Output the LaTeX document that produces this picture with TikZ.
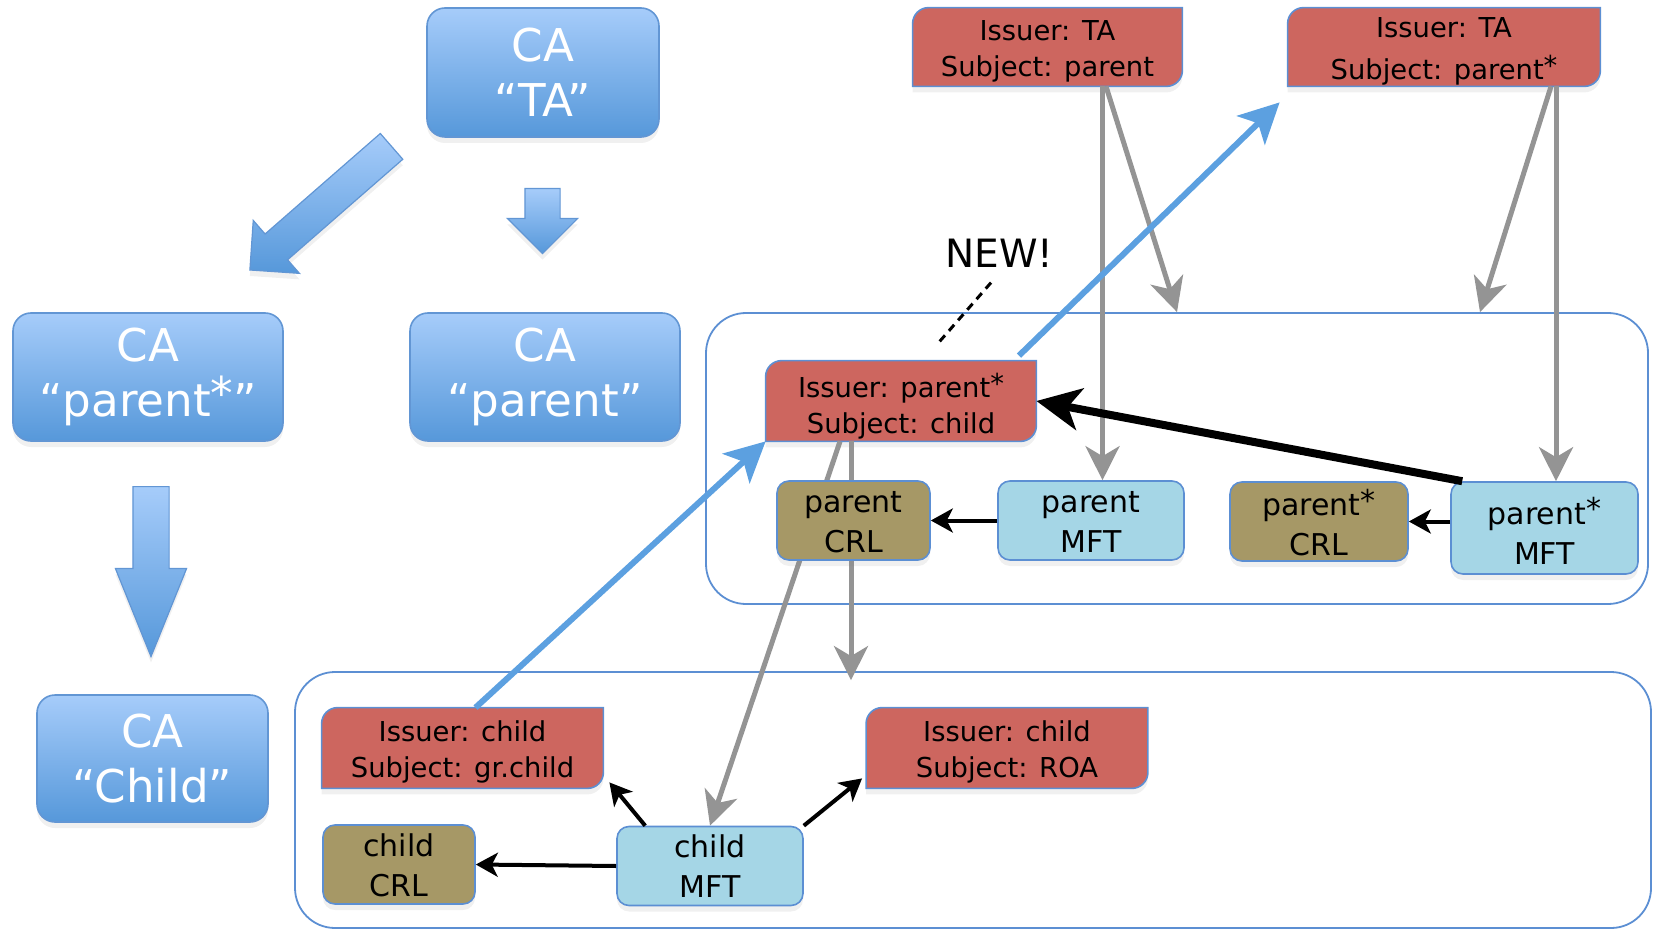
\documentclass[tikz,border=0pt]{standalone}
\usepackage{fontspec}
\setmainfont{DejaVu Sans}
\usetikzlibrary{arrows.meta,shapes.arrows,shadows,backgrounds,calc}
\pgfdeclarelayer{boxes}
\pgfsetlayers{background,boxes,main}

\definecolor{catop}{RGB}{166,204,250}
\definecolor{cabot}{RGB}{86,152,218}
\definecolor{caline}{RGB}{98,150,212}
\definecolor{certred}{RGB}{205,102,95}
\definecolor{crlolive}{RGB}{166,152,102}
\definecolor{mftblue}{RGB}{165,214,230}
\definecolor{boxline}{RGB}{92,143,211}
\definecolor{arrowgrey}{RGB}{148,148,148}
\definecolor{linkblue}{RGB}{92,160,224}

\newcommand\pstar{\raisebox{0.15em}{*}}

\tikzset{
  softshadow/.style={drop shadow={opacity=0.12,shadow xshift=0pt,shadow yshift=-3pt}},
  ca/.style={rounded corners=9pt, draw=caline, line width=0.8pt, top color=catop, bottom color=cabot,
    text=white, align=center, inner sep=0pt, font=\fontsize{22.6}{27.5}\selectfont, softshadow},
  blockarrow/.style={single arrow, draw=caline, line width=0.6pt, top color=catop, bottom color=cabot,
    inner xsep=0pt, single arrow head indent=0pt, softshadow},
  cert/.style={align=center, inner sep=0pt, font=\fontsize{13.7}{18}\selectfont,
    text height=29.5pt, text depth=0pt},
  certshape/.style={fill=certred, draw=boxline, line width=0.8pt, softshadow},
  mft/.style={rounded corners=6pt, fill=mftblue, draw=boxline, line width=0.8pt, align=center,
    inner sep=0pt, font=\fontsize{15}{20}\selectfont, text height=31.6pt, text depth=0pt, softshadow},
  crl/.style={mft, fill=crlolive},
  group/.style={rounded corners=20pt, draw=boxline, line width=0.9pt, inner sep=0pt},
  greyarrow/.style={-{Stealth[length=17pt,width=17pt,inset=5pt]}, draw=arrowgrey, line width=2.5pt},
  linkarrow/.style={-{Stealth[length=20pt,width=20pt,inset=5pt]}, draw=linkblue, line width=3pt},
  heavyarrow/.style={-{Stealth[length=22pt,width=21pt,inset=6pt]}, line width=4pt},
  thinarrow/.style={-{Stealth[length=11pt,width=12pt,inset=3pt]}, line width=2pt},
}

% cert box: rounded top left and bottom right only
\newcommand\certframe[1]{%
  \path[certshape] (#1.south west) -- ([yshift=-8pt]#1.north west) arc[start angle=180,end angle=90,radius=8pt]
    -- (#1.north east) -- ([yshift=8pt]#1.south east) arc[start angle=0,end angle=-90,radius=8pt] -- cycle;}

\begin{document}
\begin{tikzpicture}[x=0.5pt,y=-0.5pt]
	\useasboundingbox (0,0) rectangle (1653,930);

	% CA hierarchy
	\node[ca, minimum width=116pt, minimum height=64.5pt] (caTA) at (543,72.5) {CA\\“TA”};
	\node[ca, minimum width=135pt, minimum height=64pt] (caParentS) at (148,377) {CA\\“parent\pstar”};
	\node[ca, minimum width=135pt, minimum height=64pt] (caParent) at (545,377) {CA\\“parent”};
	\node[ca, minimum width=115.5pt, minimum height=63.5pt] (caChild) at (152.5,758.5) {CA\\“Child”};

	\node[blockarrow, inner ysep=8.25pt, minimum height=94pt, minimum width=34.5pt, single arrow head extend=9pt, rotate=221.1, anchor=tail] (arrS) at (392,146) {};
	\node[blockarrow, inner ysep=8.5pt, minimum height=32.5pt, minimum width=34.5pt, single arrow head extend=8.75pt, rotate=-90, anchor=tail] (arrP) at (542.5,188) {};
	\node[blockarrow, inner ysep=8.75pt, minimum height=85pt, minimum width=35pt, single arrow head extend=8.75pt, single arrow tip angle=44, rotate=-90, anchor=tail] (arrC) at (151,486) {};

	% repositories
	\begin{pgfonlayer}{background}
	\node[group, minimum width=471pt, minimum height=145.5pt] (grpParent) at (1177,458.5) {};
	\node[group, minimum width=678pt, minimum height=128pt] (grpChild) at (973,800) {};
	\end{pgfonlayer}

	\node[cert] (certTAp) at (1047.5,47) [minimum width=134.5pt, minimum height=39pt] {Issuer: TA\\Subject: parent};
	\node[cert, text height=32.3pt] (certTApS) at (1444,47) [minimum width=156pt, minimum height=39pt] {Issuer: TA\\[3pt]Subject: parent\pstar};
	\node[cert, text height=32.5pt] (certPSc) at (901,401) [minimum width=135pt, minimum height=40pt] {Issuer: parent\pstar\\Subject: child};
	\node[cert] (certCgc) at (462.5,748) [minimum width=140.5pt, minimum height=40pt] {Issuer: child\\Subject: gr.child};
	\node[cert] (certCroa) at (1007,748) [minimum width=140.5pt, minimum height=40pt] {Issuer: child\\Subject: ROA};

	\node[crl, minimum width=76.5pt, minimum height=39.5pt] (crlParent) at (853.5,520.5) {parent\\CRL};
	\node[mft, minimum width=93pt, minimum height=39.5pt] (mftParent) at (1091,520.5) {parent\\MFT};
	\node[crl, text height=34pt, minimum width=89pt, minimum height=39.5pt] (crlParentS) at (1319,521.5) {parent\pstar\\CRL};
	\node[mft, text height=36pt, minimum width=93.5pt, minimum height=46pt] (mftParentS) at (1544.5,528) {parent\pstar\\MFT};
	\node[crl, minimum width=76pt, minimum height=39.5pt] (crlChild) at (399,864.5) {child\\CRL};
	\node[mft, minimum width=93pt, minimum height=39.5pt] (mftChild) at (710,866) {child\\MFT};

	\node[inner sep=0pt, font=\fontsize{19.5}{22}\selectfont] (new) at (999.5,253) {NEW!};

	\begin{pgfonlayer}{boxes}
	\foreach \c in {certTAp,certTApS,certPSc,certCgc,certCroa} {\certframe{\c}}
	\coordinate (psDrop) at ([xshift=-25pt]certPSc.south);
	\draw[greyarrow] ([xshift=27.5pt]certTAp.south) -- ([xshift=27.5pt]certTAp.south |- mftParent.north);
	\draw[greyarrow] ([xshift=29.25pt]certTAp.south) -- (grpParent.north);
	\draw[greyarrow] ([xshift=56pt]certTApS.south) -- ([xshift=56pt]certTApS.south |- mftParentS.north);
	\draw[greyarrow] ([xshift=53.5pt]certTApS.south) -- ([xshift=151.5pt]grpParent.north);
	\draw[greyarrow] (psDrop) -- ($(psDrop |- grpChild.north)+(0,9)$);
	\draw[greyarrow] ([xshift=-30.5pt]certPSc.south) -- (mftChild.north);
	\end{pgfonlayer}

	\draw[heavyarrow] ([xshift=6pt]mftParentS.north west) -- (certPSc.east);
	\draw[thinarrow] (mftParent.west) -- (crlParent.east);
	\draw[thinarrow] (crlParentS.east -| mftParentS.west) -- (crlParentS.east);
	\draw[thinarrow] (mftChild.west) -- (crlChild.east);
	\draw[thinarrow] ([xshift=14.5pt]mftChild.north west) -- ([shift={(3pt,3pt)}]certCgc.south east);
	\draw[thinarrow] (mftChild.north east) -- ([shift={(-2pt,5pt)}]certCroa.south west);

	\draw[linkarrow] ([shift={(59pt,2.5pt)}]certPSc.north) -- ([shift={(-4pt,-8pt)}]certTApS.south west);
	\draw[linkarrow] ([xshift=6.5pt]certCgc.north) -- (certPSc.south west);

	\draw[dashed, dash pattern=on 4pt off 3pt, line width=1.5pt] ([shift={(-4.25pt,-7.5pt)}]new.south) -- ([shift={(17.5pt,7.5pt)}]certPSc.north);
\end{tikzpicture}
\end{document}
